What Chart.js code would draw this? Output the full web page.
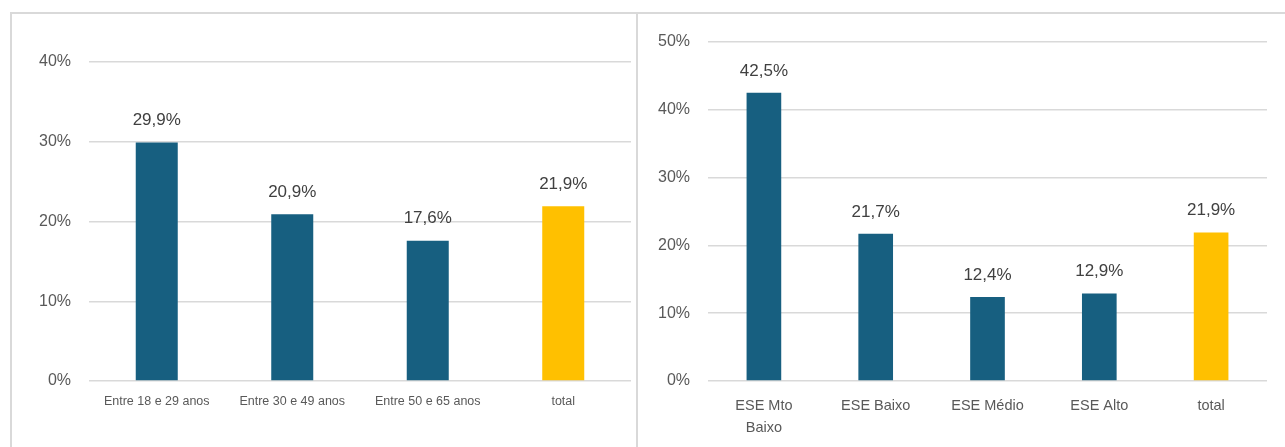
<!DOCTYPE html>
<html>
<head>
<meta charset="utf-8">
<script src="https://cdn.jsdelivr.net/npm/chart.js@4"></script>
<style>
  body { margin:0; background:#fff; width:1285px; height:447px; overflow:hidden; position:relative; }
  .panel { position:absolute; box-sizing:border-box; }
  #leftPanel { left:10px; top:12px; width:628px; height:460px; border:2px solid #d9d9d9; }
  #rightPanel { left:636px; top:12px; width:660px; height:460px; border:2px solid #d9d9d9; }
  canvas { position:absolute; top:0; }
</style>
</head>
<body>
<div class="panel" id="leftPanel"></div>
<div class="panel" id="rightPanel"></div>
<canvas id="chartLeft" style="left:0;width:637px;height:447px"></canvas>
<canvas id="chartRight" style="left:637px;width:648px;height:447px"></canvas>
<script>
// data - venstre graf (alder)
const ageLabels = ["Entre 18 e 29 anos", "Entre 30 e 49 anos", "Entre 50 e 65 anos", "total"]
const ageValues = [29.9, 20.9, 17.6, 21.9]

// data - hoejre graf (ESE)
const eseLabels = [["ESE Mto", "Baixo"], "ESE Baixo", "ESE Médio", "ESE Alto", "total"]
const eseValues = [42.5, 21.7, 12.4, 12.9, 21.9]

const blue = "#175f80"
const yellow = "#ffc000"

// farve: sidste bar (total) er gul
function barColors(vals){
    return vals.map((v, i) => i == vals.length - 1 ? yellow : blue)
}

// tegn vaerdier over hver bar
const valueLabels = {
    id: "valueLabels",
    afterDatasetsDraw(chart){
        const ctx = chart.ctx
        const meta = chart.getDatasetMeta(0)
        ctx.save()
        ctx.font = "17px 'Liberation Sans', Arial, sans-serif"
        ctx.fillStyle = "#404040"
        ctx.textAlign = "center"
        ctx.textBaseline = "middle"
        meta.data.forEach((bar, i) => {
            const v = chart.data.datasets[0].data[i]
            ctx.fillText(v.toFixed(1).replace(".", ",") + "%", bar.x, bar.y - 22)
        })
        ctx.restore()
    }
}

function makeChart(id, labels, values, maxY, opts){
    return new Chart(document.getElementById(id), {
        type: "bar",
        data: {
            labels: labels,
            datasets: [{
                data: values,
                backgroundColor: barColors(values),
                categoryPercentage: 1,
                barPercentage: 0.31
            }]
        },
        options: {
            responsive: false,
            animation: false,
            layout: {padding: {top: opts.top, right: opts.right, left: 0, bottom: 0}},
            plugins: {legend: {display: false}, tooltip: {enabled: false}},
            scales: {
                x: {
                    grid: {display: false},
                    border: {display: false},
                    ticks: {
                        color: "#595959",
                        font: opts.xFont,
                        padding: opts.xPad,
                        maxRotation: 0,
                        autoSkip: false
                    },
                    afterFit: s => { s.height = 447 - 381 }
                },
                y: {
                    min: 0,
                    max: maxY,
                    grid: {color: "#d9d9d9", lineWidth: 1.5, drawTicks: false},
                    border: {display: false},
                    ticks: {
                        stepSize: 10,
                        padding: 18,
                        color: "#595959",
                        font: {family: "'Liberation Sans', Arial, sans-serif", size: 16},
                        callback: v => v + "%"
                    },
                    afterFit: s => { s.width = opts.yWidth }
                }
            }
        },
        plugins: [valueLabels]
    })
}

const leftCanvas = document.getElementById("chartLeft")
leftCanvas.width = 637; leftCanvas.height = 447
const rightCanvas = document.getElementById("chartRight")
rightCanvas.width = 648; rightCanvas.height = 447

makeChart("chartLeft", ageLabels, ageValues, 40, {
    top: 62, right: 6, yWidth: 89, xPad: 5,
    xFont: {family: "'Liberation Sans', Arial, sans-serif", size: 12.5}
})
makeChart("chartRight", eseLabels, eseValues, 50, {
    top: 42, right: 18, yWidth: 71, xPad: 6,
    xFont: {family: "'Liberation Sans', Arial, sans-serif", size: 14.5, lineHeight: 22 / 14.5}
})
</script>
</body>
</html>
